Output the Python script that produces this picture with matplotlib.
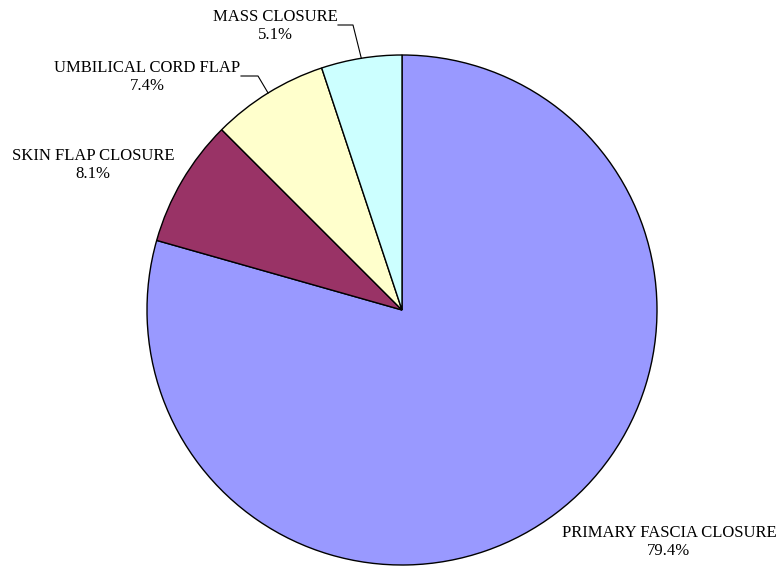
import numpy as np
import matplotlib.pyplot as plt

plt.rcParams['font.family'] = ['Liberation Serif', 'DejaVu Serif']

# data
labels = ['PRIMARY FASCIA CLOSURE', 'SKIN FLAP CLOSURE', 'UMBILICAL CORD FLAP', 'MASS CLOSURE']
shares = [79.4, 8.1, 7.4, 5.1]
colors = ['#9999FF', '#993366', '#FFFFCC', '#CCFFFF']

W, H = 781, 567
cx, cy, r = 402, 310, 255

fig = plt.figure(figsize=(W / 100, H / 100), dpi=100)
ax = fig.add_axes([(cx - r) / W, 1 - (cy + r) / H, 2 * r / W, 2 * r / H])

wedges, _ = ax.pie(shares, colors=colors, startangle=90, counterclock=False,
                   radius=1.0, wedgeprops=dict(edgecolor='black', linewidth=1.0))
ax.set_xlim(-1, 1)
ax.set_ylim(-1, 1)
ax.set_aspect('equal')
ax.axis('off')


def px(x, y):
    # pixel position -> data coords of this axes
    return (x - cx) / r, (cy - y) / r


# label text positions (pixels) and optional leader elbow
label_pos = [(669, 542), (93, 165), (147, 77), (275, 26)]
elbows = [None, None, [(241, 76), (258, 76)], [(338, 25), (353, 25)]]

for w, lab, val, pos, elb in zip(wedges, labels, shares, label_pos, elbows):
    tx, ty = px(*pos)
    ax.text(tx, ty, f'{lab}\n{val:.1f}%', ha='center', va='center',
            fontsize=12, linespacing=1.12, color='black')
    if elb is not None:
        mid = np.deg2rad((w.theta1 + w.theta2) / 2)
        ex, ey = np.cos(mid), np.sin(mid)
        pts = [px(*p) for p in elb] + [(ex, ey)]
        ax.plot([p[0] for p in pts], [p[1] for p in pts], color='black', lw=0.8,
                clip_on=False)

fig.savefig('out.png', dpi=100, facecolor='white')
